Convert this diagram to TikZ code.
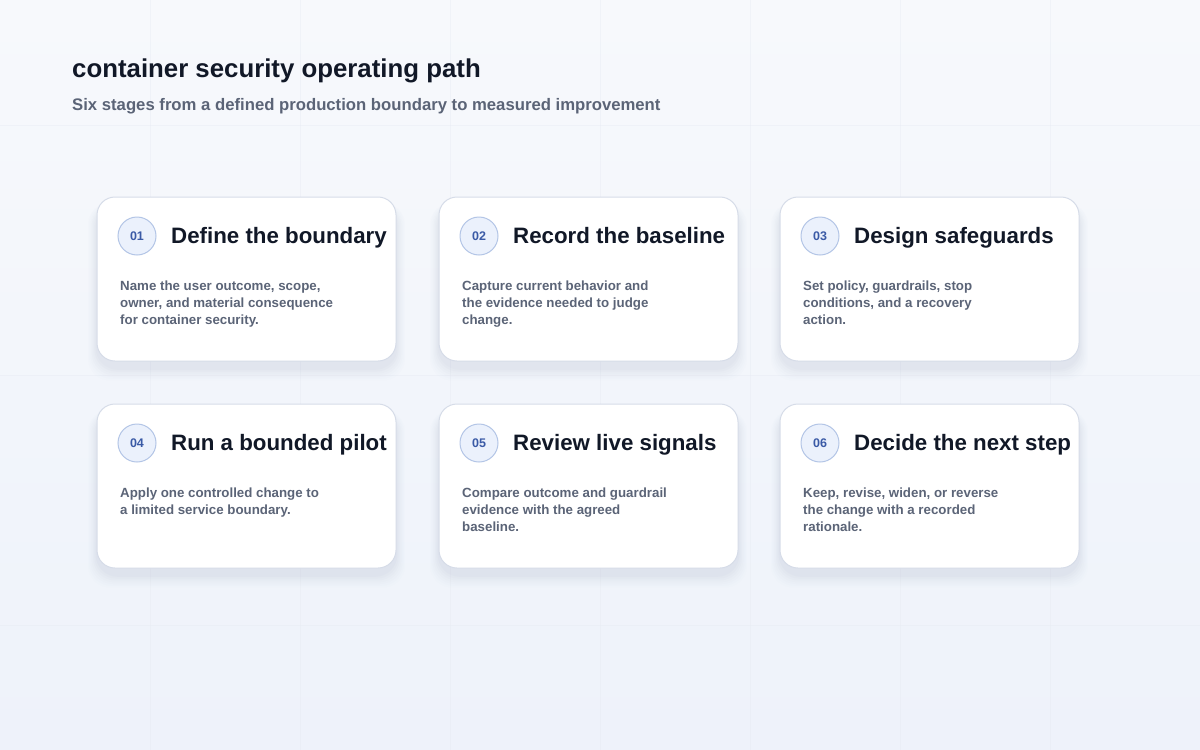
\documentclass[tikz,border=0pt]{standalone}
\usepackage{fontspec}
\setmainfont{Liberation Sans}
\usetikzlibrary{calc}
\definecolor{bgA}{HTML}{F7F9FC}
\definecolor{bgB}{HTML}{EEF2FA}
\definecolor{gridc}{HTML}{E6EAF2}
\definecolor{titlec}{HTML}{111827}
\definecolor{subc}{HTML}{5B6477}
\definecolor{cardline}{HTML}{D6DCE8}
\definecolor{circfill}{HTML}{EBF1FC}
\definecolor{circline}{HTML}{B3C5E6}
\definecolor{numc}{HTML}{3A5AA6}
\definecolor{shadowc}{HTML}{94A0BE}
\tikzset{
  cardbox/.style={draw=cardline, line width=1pt, fill=white, rounded corners=18pt},
  numcirc/.style={circle, draw=circline, line width=1pt, fill=circfill, minimum size=38pt, inner sep=0pt,
    font=\fontsize{12.5}{13}\selectfont\bfseries, text=numc},
  headtxt/.style={anchor=base west, inner sep=0pt, font=\fontsize{22.3}{22}\selectfont\bfseries, text=titlec},
  bodytxt/.style={anchor=north west, inner sep=0pt, align=left, font=\fontsize{13.3}{17}\selectfont\bfseries, text=subc},
}
\newcommand{\stagecard}[6]{%
  % #1 name, #2 x, #3 y, #4 number, #5 heading, #6 body
  \foreach \k/\o in {1/0.04,2/0.035,3/0.03,4/0.025,5/0.02,6/0.015,7/0.01}{
    \fill[shadowc, opacity=\o, rounded corners=22pt]
      ($(#2,#3)+(-\k*1.3,-\k*0.2+7)$) rectangle ($(#2,#3)+(299+\k*1.3,164+\k*1.8+7)$);
  }
  \draw[cardbox] (#2,#3) rectangle ++(299,164);
  \node[numcirc] (#1n) at ($(#2,#3)+(40,39)$) {#4};
  \node[headtxt] (#1h) at ($(#2,#3)+(74,46)$) {#5};
  \node[bodytxt] (#1b) at ($(#2,#3)+(23,84)$) {#6};
}
\begin{document}
\begin{tikzpicture}[x=1pt,y=-1pt]
\useasboundingbox (0,0) rectangle (1200,750);
\shade[top color=bgA, bottom color=bgB] (0,0) rectangle (1200,750);
\foreach \gx in {150,300,...,1050} \draw[gridc, line width=0.8pt, opacity=0.4] (\gx,0) -- (\gx,750);
\foreach \gy in {125,375,625} \draw[gridc, line width=0.8pt, opacity=0.4] (0,\gy) -- (1200,\gy);
\node[anchor=base west, inner sep=0pt, font=\fontsize{25.8}{26}\selectfont\bfseries, text=titlec] (title) at (72,77) {container security operating path};
\node[anchor=base west, inner sep=0pt, font=\fontsize{16.7}{17}\selectfont\bfseries, text=subc] (subtitle) at (72,110) {Six stages from a defined production boundary to measured improvement};
\stagecard{s1}{97}{197}{01}{Define the boundary}{Name the user outcome, scope,\\owner, and material consequence\\for container security.}
\stagecard{s2}{439}{197}{02}{Record the baseline}{Capture current behavior and\\the evidence needed to judge\\change.}
\stagecard{s3}{780}{197}{03}{Design safeguards}{Set policy, guardrails, stop\\conditions, and a recovery\\action.}
\stagecard{s4}{97}{404}{04}{Run a bounded pilot}{Apply one controlled change to\\a limited service boundary.}
\stagecard{s5}{439}{404}{05}{Review live signals}{Compare outcome and guardrail\\evidence with the agreed\\baseline.}
\stagecard{s6}{780}{404}{06}{Decide the next step}{Keep, revise, widen, or reverse\\the change with a recorded\\rationale.}
\end{tikzpicture}
\end{document}
